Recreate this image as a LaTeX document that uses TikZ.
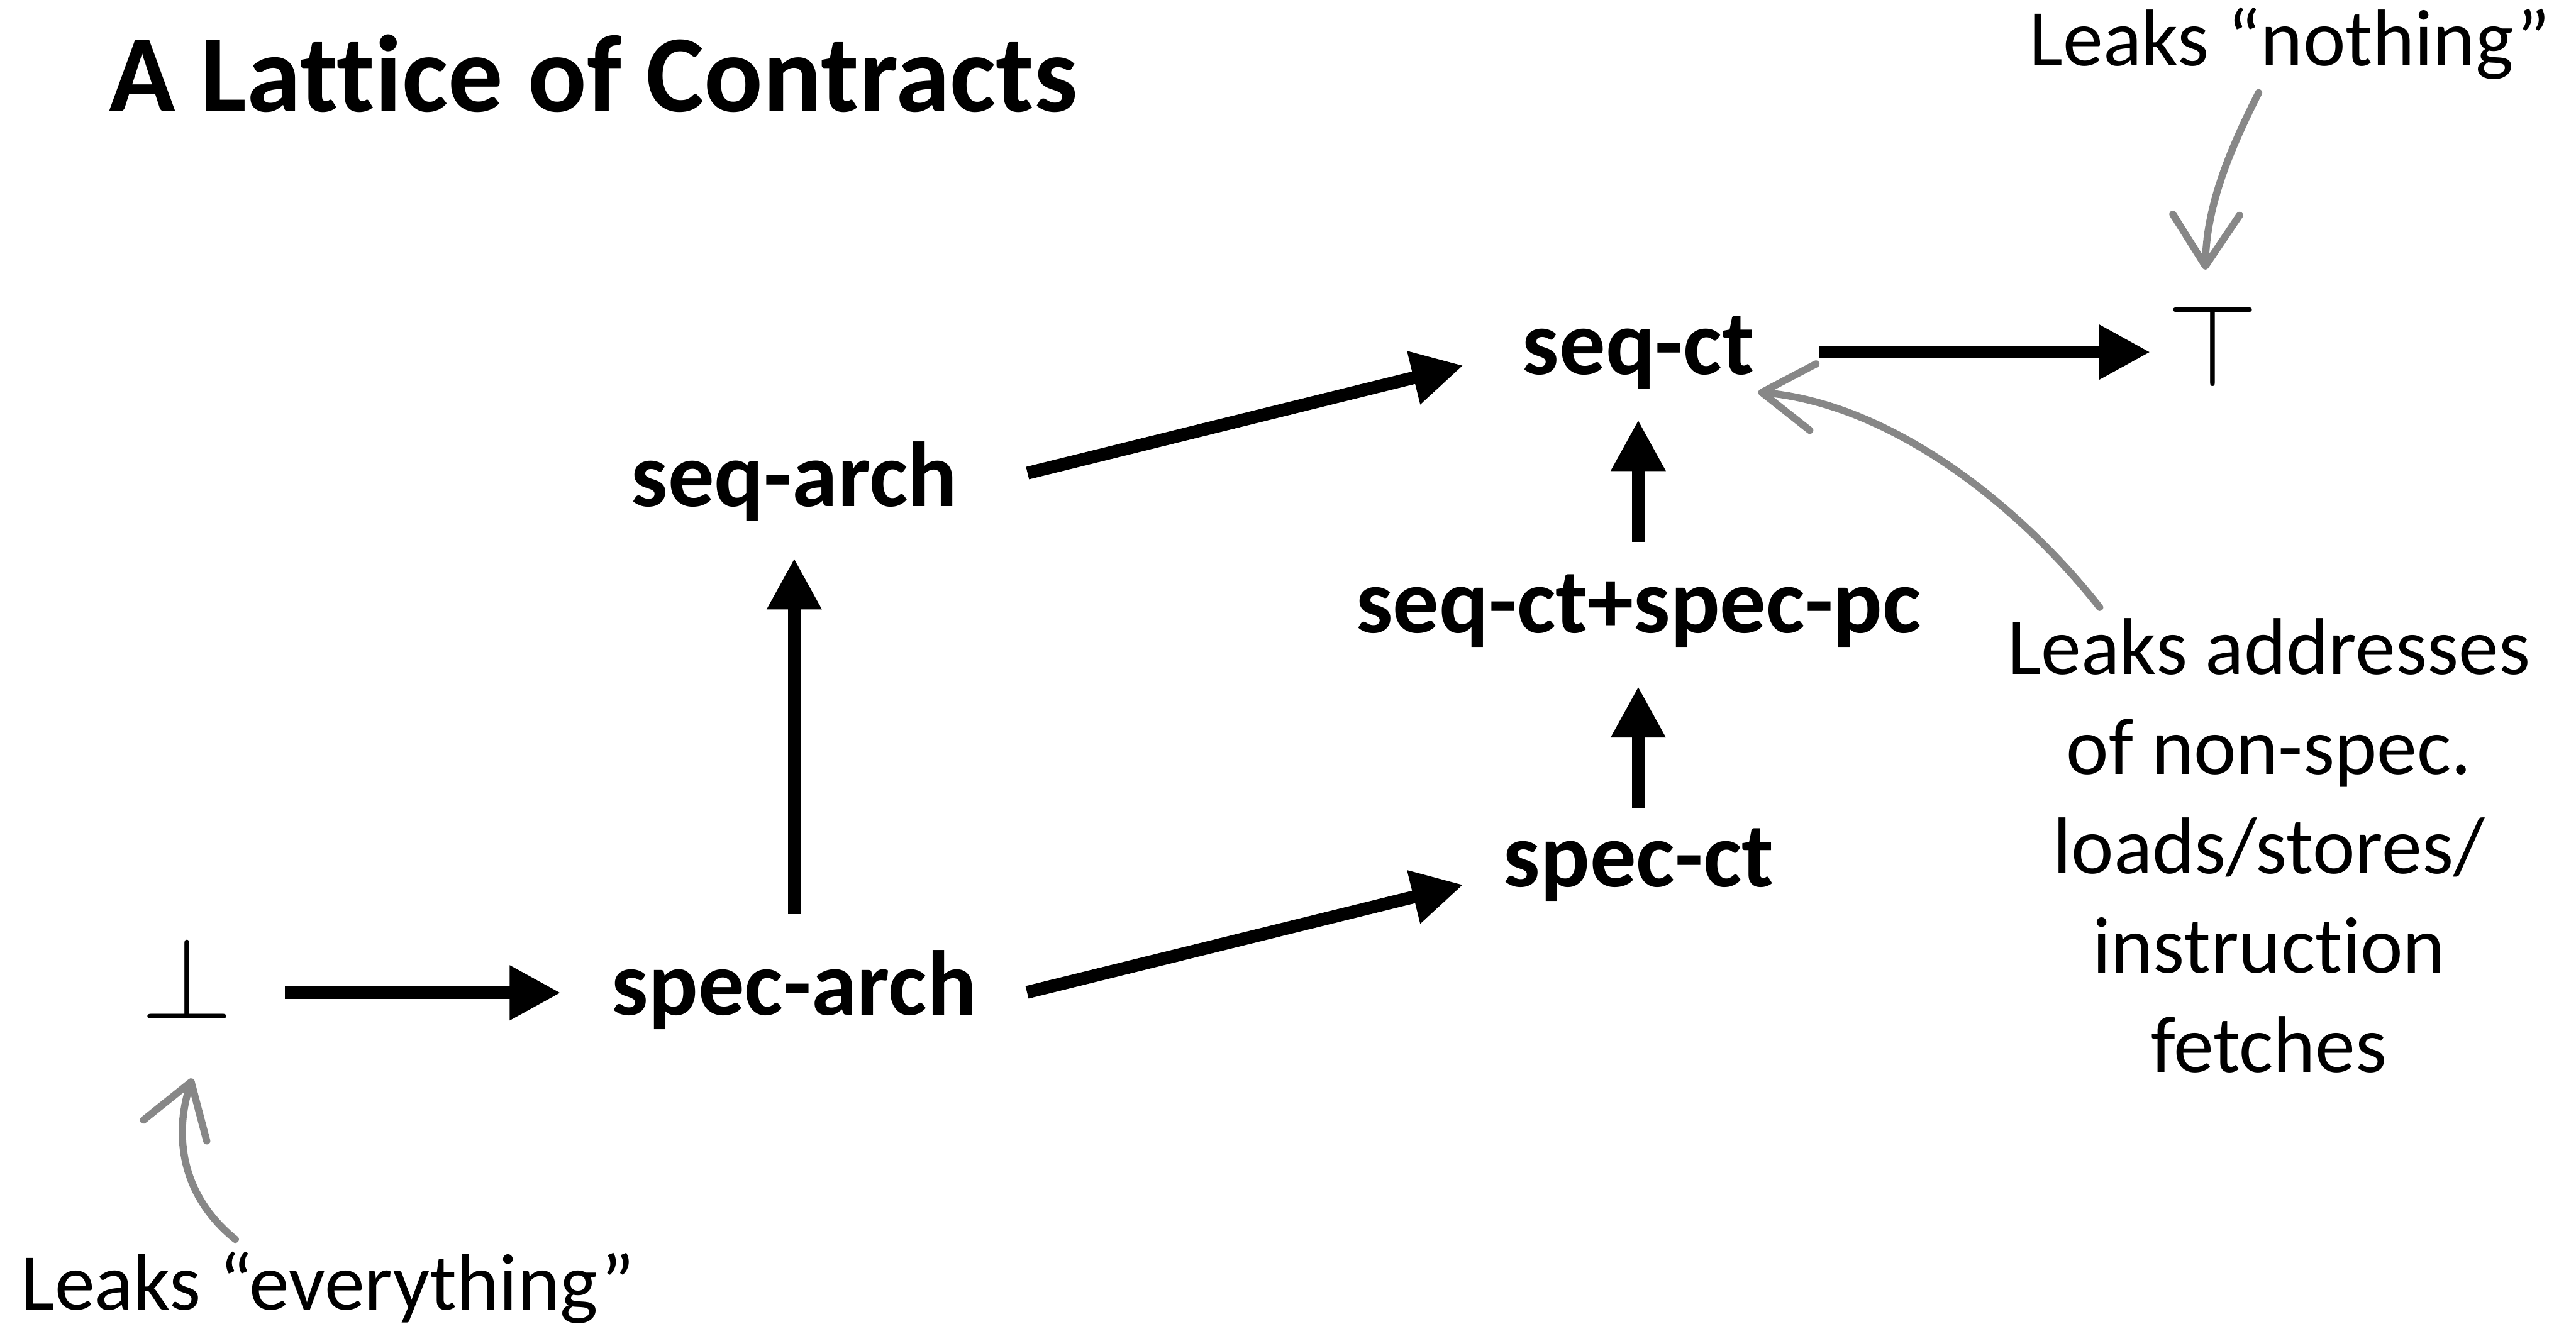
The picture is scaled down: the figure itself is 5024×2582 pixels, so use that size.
\RequirePackage{fix-cm}
\documentclass[tikz,border=0pt]{standalone}
\usepackage{fontspec}
\setmainfont{Carlito}[Ligatures={TeX,NoCommon}]
\usetikzlibrary{arrows.meta}
\definecolor{chalkgray}{RGB}{135,135,135}

\begin{document}
\begin{tikzpicture}[x=0.1pt, y=-0.1pt,
    lbl/.style={font=\fontsize{18}{22}\selectfont\bfseries, inner sep=0pt, anchor=base},
    note/.style={font=\fontsize{15.7}{19.4}\selectfont, inner sep=0pt, align=center},
    sym/.style={font=\fontsize{23}{28}\selectfont, inner sep=0pt, anchor=base},
    arr/.style={line width=2.5pt, -{Triangle[length=10pt,width=10pt]}},
    chalk/.style={draw=chalkgray, line width=1.4pt, line cap=round, line join=round,
        -{Straight Barb[length=10pt,width=13pt,round]}}]
    \useasboundingbox (0,0) rectangle (5024,2582);

    \node[font=\fontsize{21.4}{26}\selectfont\bfseries, inner sep=0pt, anchor=base west] (title) at (211,218) {A Lattice of Contracts};

    % the lattice, bottom to top
    \node[sym] (bot) at (365,1988) {$\bot$};
    \node[lbl] (specarch) at (1549,1980) {spec-arch};
    \node[lbl] (seqarch) at (1549,988) {seq-arch};
    \node[lbl] (specct) at (3196,1730) {spec-ct};
    \node[lbl] (seqctpc) at (3196,1234) {seq-ct+spec-pc};
    \node[lbl] (seqct) at (3195,731) {seq-ct};
    \node[sym] (top) at (4315,754) {$\top$};

    \draw[arr] ([shift={(191,-51)}]bot.base) -- ([shift={(-455,-43)}]specarch.base);
    \draw[arr] ([shift={(0,-197)}]specarch.base) -- ([shift={(0,101)}]seqarch.base);
    \draw[arr] ([shift={(455,-65)}]seqarch.base) -- ([shift={(-341,-18)}]seqct.base);
    \draw[arr] ([shift={(454,-44)}]specarch.base) -- ([shift={(-342,-4)}]specct.base);
    \draw[arr] ([shift={(-1,-154)}]specct.base) -- ([shift={(-1,105)}]seqctpc.base);
    \draw[arr] ([shift={(-1,-177)}]seqctpc.base) -- ([shift={(0,88)}]seqct.base);
    \draw[arr] ([shift={(353,-44)}]seqct.base) -- ([shift={(-121,-67)}]top.base);

    % what each contract leaks
    \node[note, anchor=base] (nothing) at (4466,128) {Leaks “nothing”};
    \node[note, anchor=base west] (everything) at (39,2556) {Leaks “everything”};
    \node[note, anchor=north] (addr) at (4425,1205) {Leaks addresses\\of non-spec.\\loads/stores/\\instruction\\fetches};

    \draw[chalk] ([shift={(-61,53)}]nothing.base) .. controls (4350,290) and (4303,400) .. ([shift={(-14,-228)}]top.base);
    \draw[chalk] ([shift={(420,-138)}]everything.base west) .. controls (350,2330) and (340,2210) .. ([shift={(10,116)}]bot.base);
    \draw[chalk] ([shift={(-330,-20)}]addr.north) .. controls (3950,1000) and (3700,790) .. ([shift={(234,34)}]seqct.base);
\end{tikzpicture}
\end{document}
